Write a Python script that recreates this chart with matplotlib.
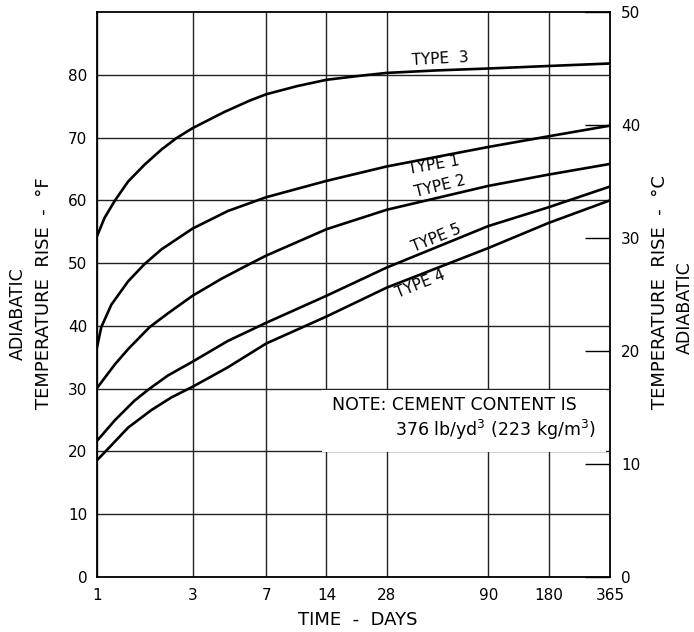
import numpy as np
import matplotlib.pyplot as plt
from matplotlib.patches import Rectangle

# adiabatic temperature rise (deg F), per cement type
type3_days = [1, 1.09, 1.23, 1.43, 1.73, 2.1, 2.49, 3, 4.34, 5.8, 7, 10, 14, 20, 28, 50, 90, 180, 365]
type3_rise = [54.3, 57.2, 60.0, 63.0, 65.7, 68.1, 69.9, 71.5, 74.1, 75.9, 76.9, 78.2, 79.2, 79.8,
              80.3, 80.7, 81.0, 81.4, 81.8]

type1_days = [1, 1.05, 1.18, 1.43, 1.72, 2.1, 3, 4.5, 7, 14, 28, 90, 180, 365]
type1_rise = [36.6, 39.8, 43.4, 47.1, 49.8, 52.2, 55.5, 58.3, 60.5, 63.1, 65.4, 68.5, 70.2, 71.9]

type2_days = [1, 1.23, 1.43, 1.83, 2.26, 3, 4.18, 5.58, 7, 14, 28, 90, 180, 365]
type2_rise = [30.1, 33.9, 36.3, 39.8, 42.0, 44.8, 47.5, 49.6, 51.2, 55.4, 58.5, 62.3, 64.1, 65.8]

type5_days = [1, 1.23, 1.54, 1.83, 2.26, 3, 4.5, 7, 14, 28, 90, 180, 365]
type5_rise = [21.7, 25.0, 28.1, 30.0, 32.1, 34.3, 37.6, 40.5, 44.8, 49.3, 55.9, 58.9, 62.2]

type4_days = [1, 1.11, 1.43, 1.87, 2.35, 3, 4.5, 7, 14, 28, 90, 180, 365]
type4_rise = [18.6, 20.1, 23.8, 26.6, 28.6, 30.3, 33.4, 37.2, 41.5, 46.1, 52.4, 56.4, 60.0]

day_ticks = [1, 3, 7, 14, 28, 90, 180, 365]
f_ticks = [0, 10, 20, 30, 40, 50, 60, 70, 80]
c_ticks = [0, 10, 20, 30, 40, 50]

fig = plt.figure(figsize=(6.94, 6.32), dpi=100)
ax = fig.add_axes([0.1398, 0.087, 0.7392, 0.894])

ax.set_xscale('log')
ax.set_xlim(1, 365)
ax.set_ylim(0, 90)
ax.set_xticks(day_ticks)
ax.set_xticklabels([str(d) for d in day_ticks])
ax.minorticks_off()
ax.set_yticks(f_ticks)
ax.tick_params(axis='both', length=0, labelsize=11, pad=7)
ax.tick_params(axis='x', pad=8)
ax.grid(True, color='#222222', linewidth=1.0)
ax.set_axisbelow(True)
for s in ax.spines.values():
    s.set_linewidth(1.3)

for d, r in [(type3_days, type3_rise), (type1_days, type1_rise), (type2_days, type2_rise),
             (type5_days, type5_rise), (type4_days, type4_rise)]:
    ax.plot(d, r, color='black', linewidth=1.9, zorder=3, solid_joinstyle='round')

# curve labels (pixel positions)
lab = dict(fontsize=11, color='black', ha='center', va='center', transform=None)
ax.text(440, 632 - 59, 'TYPE  3', rotation=3, **lab)
ax.text(434, 632 - 165, 'TYPE 1', rotation=10, **lab)
ax.text(440, 632 - 186, 'TYPE 2', rotation=14, **lab)
ax.text(436, 632 - 238, 'TYPE 5', rotation=22, **lab)
ax.text(420, 632 - 284, 'TYPE 4', rotation=22, **lab)

# note box
ax.add_patch(Rectangle((0.4386, 0.221), 0.553, 0.11, transform=ax.transAxes,
                       facecolor='white', edgecolor='none', zorder=2))
ax.text(0.458, 0.305, 'NOTE: CEMENT CONTENT IS', transform=ax.transAxes,
        fontsize=12.5, ha='left', va='center', zorder=4)
ax.text(0.581, 0.261, r'376 lb/yd$^3$ (223 kg/m$^3$)', transform=ax.transAxes,
        fontsize=12.5, ha='left', va='center', zorder=4)

fig.text(358 / 694, 1 - 620 / 632, 'TIME  -  DAYS', fontsize=13, ha='center', va='center')
fig.text(0.026, 1 - 314 / 632, 'ADIABATIC', rotation=90, fontsize=12.5, ha='center', va='center')
fig.text(0.063, 1 - 293 / 632, 'TEMPERATURE  RISE  -  °F', rotation=90, fontsize=13,
         ha='center', va='center')

ax2 = ax.twinx()
ax2.set_ylim(0, 50)
ax2.set_yticks(c_ticks)
ax2.tick_params(axis='y', direction='in', length=18, width=1.0, labelsize=11, pad=8)
for s in ax2.spines.values():
    s.set_visible(False)
fig.text(0.951, 1 - 292 / 632, 'TEMPERATURE  RISE  -  °C', rotation=90, fontsize=13,
         ha='center', va='center')
fig.text(0.987, 1 - 308 / 632, 'ADIABATIC', rotation=90, fontsize=12.5, ha='center', va='center')

fig.savefig('out.png', dpi=100)
